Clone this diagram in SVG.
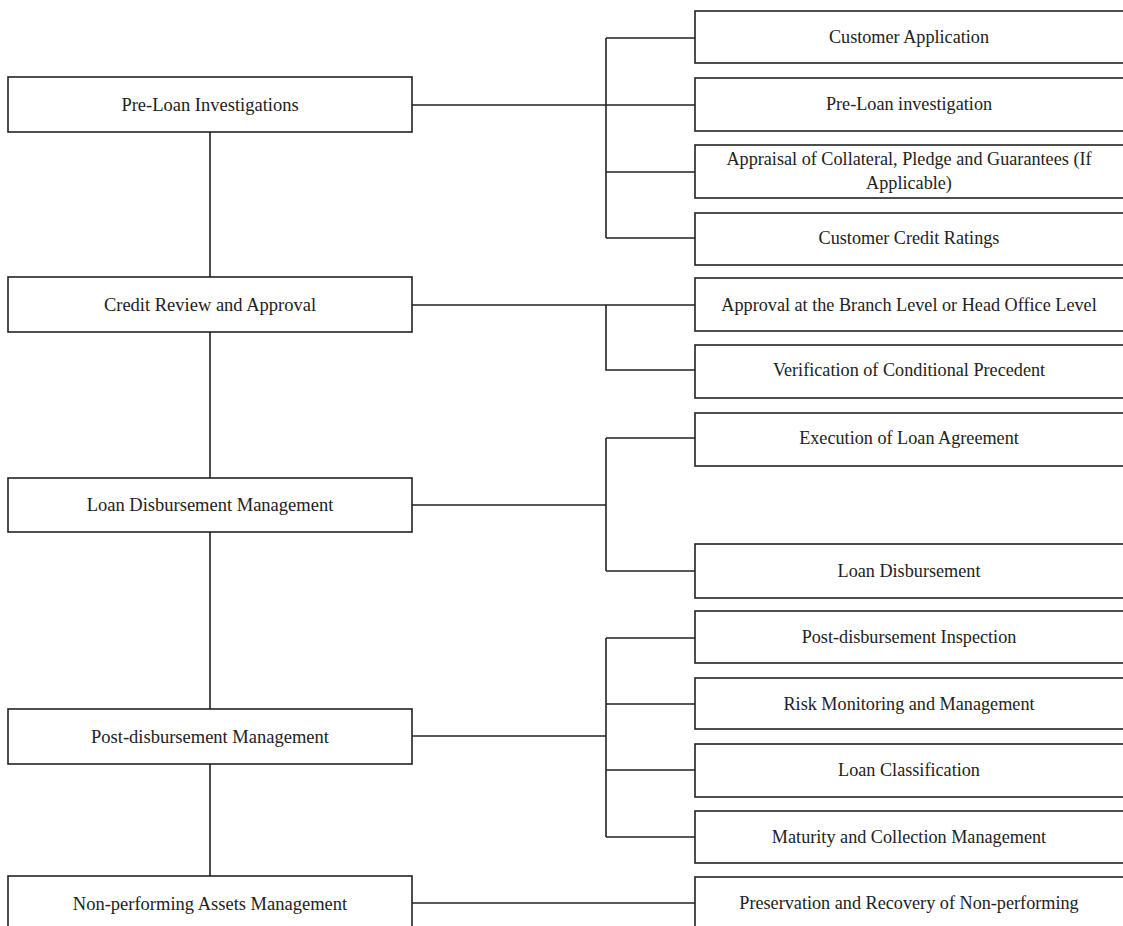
<svg xmlns="http://www.w3.org/2000/svg" width="1123" height="926" viewBox="0 0 1123 926">
<style>
.box{fill:#fff;stroke:#222;stroke-width:1.6}
.lt{font-family:"Liberation Serif","Times New Roman",serif;font-size:18.5px;fill:#222;text-anchor:middle}
.rt{font-family:"Liberation Serif","Times New Roman",serif;font-size:18.2px;fill:#222;text-anchor:middle}
.conn{fill:none;stroke:#222;stroke-width:1.6}
</style>
<rect width="1123" height="926" fill="#fff"/>
<g id="connectors" class="conn">
<path d="M210 132V277M210 332V478M210 532V709M210 764V876"/>
<path d="M412 105H695M606 38V238M606 38H695M606 172H695M606 238H695"/>
<path d="M412 305H695M606 305V370H695"/>
<path d="M412 505H606M606 438V571M606 438H695M606 571H695"/>
<path d="M412 736H606M606 638V837M606 638H695M606 704H695M606 770H695M606 837H695"/>
<path d="M412 903H695"/>
</g>
<g id="n-preloan"><rect class="box" x="8" y="77" width="404" height="55"/><text class="lt" x="210" y="111">Pre-Loan Investigations</text></g>
<g id="n-credit"><rect class="box" x="8" y="277" width="404" height="55"/><text class="lt" x="210" y="311">Credit Review and Approval</text></g>
<g id="n-disb"><rect class="box" x="8" y="478" width="404" height="54"/><text class="lt" x="210" y="511">Loan Disbursement Management</text></g>
<g id="n-post"><rect class="box" x="8" y="709" width="404" height="55"/><text class="lt" x="210" y="743">Post-disbursement Management</text></g>
<g id="n-npa"><rect class="box" x="8" y="876" width="404" height="56"/><text class="lt" x="210" y="910">Non-performing Assets Management</text></g>

<g id="r-custapp"><rect class="box" x="695" y="11" width="432" height="52"/><text class="rt" x="909" y="43">Customer Application</text></g>
<g id="r-preinv"><rect class="box" x="695" y="78" width="432" height="53"/><text class="rt" x="909" y="110">Pre-Loan investigation</text></g>
<g id="r-appraisal"><rect class="box" x="695" y="145" width="432" height="53"/><text class="rt" x="909" y="165">Appraisal of Collateral, Pledge and Guarantees (If</text><text class="rt" x="909" y="189">Applicable)</text></g>
<g id="r-rating"><rect class="box" x="695" y="213" width="432" height="52"/><text class="rt" x="909" y="244">Customer Credit Ratings</text></g>
<g id="r-approval"><rect class="box" x="695" y="278" width="432" height="53"/><text class="rt" x="909" y="311">Approval at the Branch Level or Head Office Level</text></g>
<g id="r-verif"><rect class="box" x="695" y="345" width="432" height="53"/><text class="rt" x="909" y="376">Verification of Conditional Precedent</text></g>
<g id="r-exec"><rect class="box" x="695" y="413" width="432" height="53"/><text class="rt" x="909" y="444">Execution of Loan Agreement</text></g>
<g id="r-disb"><rect class="box" x="695" y="544" width="432" height="54"/><text class="rt" x="909" y="577">Loan Disbursement</text></g>
<g id="r-inspect"><rect class="box" x="695" y="611" width="432" height="52"/><text class="rt" x="909" y="643">Post-disbursement Inspection</text></g>
<g id="r-risk"><rect class="box" x="695" y="678" width="432" height="51"/><text class="rt" x="909" y="710">Risk Monitoring and Management</text></g>
<g id="r-class"><rect class="box" x="695" y="744" width="432" height="53"/><text class="rt" x="909" y="776">Loan Classification</text></g>
<g id="r-maturity"><rect class="box" x="695" y="811" width="432" height="52"/><text class="rt" x="909" y="843">Maturity and Collection Management</text></g>
<g id="r-preserve"><rect class="box" x="695" y="877" width="432" height="56"/><text class="rt" x="909" y="909">Preservation and Recovery of Non-performing</text></g>
</svg>
